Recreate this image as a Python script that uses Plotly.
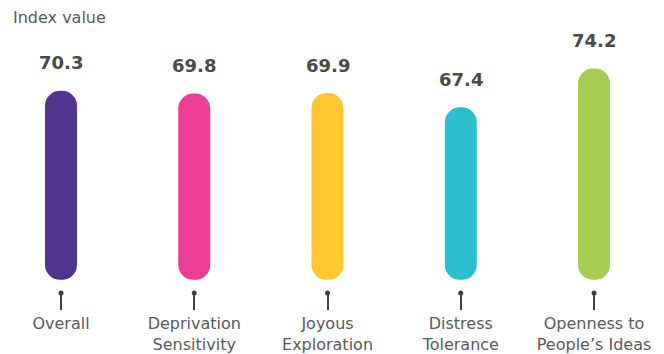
import plotly.graph_objects as go

categories = ["Overall", "Deprivation<br>Sensitivity", "Joyous<br>Exploration",
              "Distress<br>Tolerance", "Openness to<br>People’s Ideas"]
values = [70.3, 69.8, 69.9, 67.4, 74.2]
value_labels = ["70.3", "69.8", "69.9", "67.4", "74.2"]
colors = ["#51348F", "#EC3E94", "#FFC72F", "#2CBFCE", "#A6CD51"]

BASELINE = 37.1   # where the bars' rounded bottoms sit on the value axis
AXIS_MIN, AXIS_MAX = 34.79, 86.23

W, H = 664, 354
fig = go.Figure()
fig.add_trace(go.Bar(
    x=list(range(len(values))), y=[v - BASELINE for v in values], base=BASELINE,
    marker=dict(color=colors, cornerradius="50%", line=dict(width=0)),
    width=0.24, hoverinfo="skip"))
# dots on top of the tick marks
fig.add_trace(go.Scatter(
    x=list(range(len(values))), y=[AXIS_MIN] * len(values), mode="markers",
    marker=dict(color="#404040", size=5), cliponaxis=False, hoverinfo="skip"))

for i, (v, t) in enumerate(zip(values, value_labels)):
    fig.add_annotation(x=i, y=v, text=f"<b>{t}</b>", showarrow=False,
                       yanchor="middle", yshift=28,
                       font=dict(family="DejaVu Sans", size=18, color="#4A4A4A"))

fig.add_annotation(xref="paper", yref="paper", x=11 / W, y=1 - 18 / 295,
                   xanchor="left", yanchor="middle", text="Index value", showarrow=False,
                   font=dict(family="DejaVu Sans", size=16, color="#595959"))

fig.update_layout(
    width=W, height=H, barmode="overlay", showlegend=False,
    margin=dict(l=0, r=0, t=0, b=H - 295),
    plot_bgcolor="white", paper_bgcolor="white",
    font=dict(family="DejaVu Sans", size=16, color="#595959"),
    xaxis=dict(tickvals=list(range(len(values))), ticktext=categories,
               range=[-0.4578, 4.525], showgrid=False, zeroline=False, showline=False,
               ticks="outside", ticklen=16, tickwidth=1.5, tickcolor="#404040",
               tickfont=dict(family="DejaVu Sans", size=16, color="#595959")),
    yaxis=dict(range=[AXIS_MIN, AXIS_MAX], visible=False),
)
fig.write_html("out.html")
